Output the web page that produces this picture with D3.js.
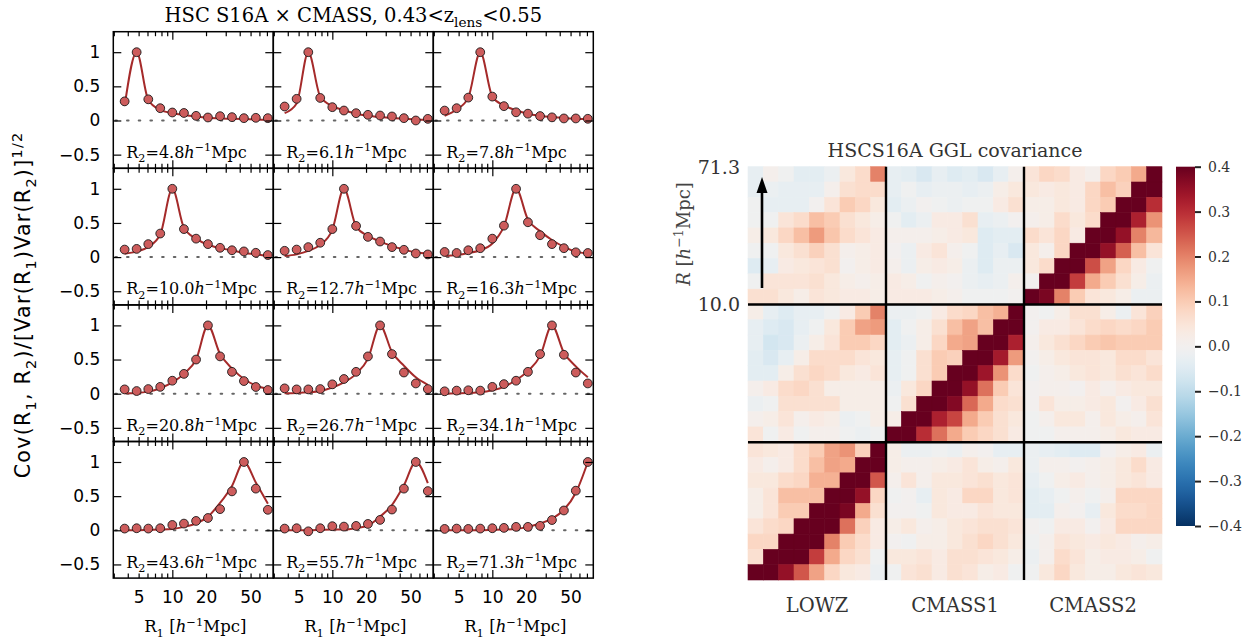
<!DOCTYPE html>
<html><head><meta charset="utf-8">
<script src="https://cdn.jsdelivr.net/npm/d3@7"></script>
<style>body{margin:0;background:#fff} svg{display:block}</style>
</head><body>
<svg id="chart" width="1256" height="643"></svg>
<script>
// ---------------- data: left panels ----------------
const R1 = [3.75, 4.8, 6.1, 7.8, 10.0, 12.7, 16.3, 20.8, 26.7, 34.1, 43.6, 55.7, 71.3];
const R2Labels = ["4.8","6.1","7.8","10.0","12.7","16.3","20.8","26.7","34.1","43.6","55.7","71.3"];
const obsCorr = [
  [0.28, 1.0, 0.31, 0.18, 0.117, 0.11, 0.068, 0.044, 0.063, 0.049, 0.034, 0.039, 0.034],
  [0.205, 0.317, 1.0, 0.33, 0.195, 0.146, 0.107, 0.083, 0.073, 0.059, 0.034, 0.0, 0.024],
  [0.145, 0.18, 0.335, 1.0, 0.35, 0.21, 0.12, 0.10, 0.065, 0.046, 0.03, 0.03, 0.025],
  [0.11, 0.12, 0.19, 0.345, 1.0, 0.41, 0.27, 0.19, 0.136, 0.10, 0.083, 0.063, 0.03],
  [0.092, 0.11, 0.146, 0.21, 0.41, 1.0, 0.456, 0.296, 0.228, 0.146, 0.107, 0.053, 0.039],
  [0.075, 0.06, 0.1, 0.13, 0.27, 0.46, 1.0, 0.51, 0.32, 0.19, 0.13, 0.07, 0.06],
  [0.063, 0.039, 0.068, 0.1, 0.19, 0.29, 0.5, 1.0, 0.546, 0.32, 0.185, 0.098, 0.054],
  [0.078, 0.063, 0.063, 0.068, 0.137, 0.215, 0.32, 0.546, 1.0, 0.58, 0.31, 0.15, 0.068],
  [0.035, 0.045, 0.05, 0.045, 0.1, 0.14, 0.19, 0.32, 0.58, 1.0, 0.57, 0.31, 0.15],
  [0.025, 0.03, 0.025, 0.03, 0.078, 0.098, 0.137, 0.18, 0.31, 0.57, 1.0, 0.61, 0.3],
  [0.025, 0.03, -0.015, 0.03, 0.06, 0.054, 0.064, 0.093, 0.152, 0.304, 0.61, 1.0, 0.574],
  [0.02, 0.025, 0.02, 0.025, 0.03, 0.035, 0.05, 0.05, 0.065, 0.15, 0.29, 0.58, 1.0]
];
const modelCorr = [
  [0.215, 1.0, 0.3, 0.155, 0.107, 0.08, 0.06, 0.04, 0.03, 0.025, 0.02, 0.015, 0.01],
  [0.107, 0.25, 1.0, 0.35, 0.21, 0.15, 0.1, 0.07, 0.05, 0.035, 0.025, 0.015, 0.01],
  [0.07, 0.16, 0.335, 1.0, 0.35, 0.22, 0.15, 0.1, 0.07, 0.05, 0.035, 0.025, 0.02],
  [0.05, 0.08, 0.15, 0.33, 1.0, 0.43, 0.27, 0.18, 0.13, 0.1, 0.06, 0.04, 0.015],
  [0.015, 0.04, 0.09, 0.18, 0.4, 1.0, 0.45, 0.31, 0.23, 0.16, 0.11, 0.07, 0.05],
  [0.02, 0.03, 0.06, 0.1, 0.2, 0.45, 1.0, 0.55, 0.38, 0.25, 0.15, 0.08, 0.05],
  [0.005, 0.01, 0.03, 0.08, 0.165, 0.29, 0.5, 1.0, 0.58, 0.37, 0.215, 0.12, 0.07],
  [0.005, 0.01, 0.02, 0.04, 0.09, 0.165, 0.29, 0.51, 1.0, 0.61, 0.41, 0.24, 0.13],
  [0.0, 0.005, 0.01, 0.02, 0.05, 0.1, 0.2, 0.33, 0.55, 1.0, 0.6, 0.4, 0.24],
  [0.0, 0.0, 0.005, 0.01, 0.02, 0.05, 0.1, 0.2, 0.4, 0.65, 1.0, 0.7, 0.39],
  [0.0, 0.0, 0.0, 0.005, 0.01, 0.01, 0.03, 0.07, 0.2, 0.37, 0.66, 1.0, 0.69],
  [0.0, 0.0, 0.0, 0.0, 0.005, 0.01, 0.02, 0.05, 0.1, 0.17, 0.3, 0.55, 1.0]
];
const xTickLabelValues = [5, 10, 20, 50];
const xMajorTicks = [10];
const xMinorTicks = [3, 4, 5, 6, 7, 8, 9, 20, 30, 40, 50, 60, 70];
const yTickValues = [-0.5, 0, 0.5, 1];
const yTickLabels = ["\u22120.5", "0", "0.5", "1"];

// ---------------- data: right heatmap (rows top -> bottom, cols left -> right) ----------------
const blockNames = ["LOWZ", "CMASS1", "CMASS2"];
const covRows = [
  [-0.03,0.01,-0.01,-0.04,-0.04,-0.02,0.04,0.07,0.2,   -0.03,-0.04,-0.06,-0.03,-0.05,-0.04,-0.06,-0.03,0.01,  0.05,0.08,0.07,0.03,0.01,0.08,0.1,0.15,1.0],
  [-0.03,-0.02,-0.03,-0.03,-0.03,0.01,0.06,0.07,0.07,  -0.03,-0.01,-0.03,-0.02,-0.02,-0.03,-0.02,0.02,0.04,  0.04,0.03,0.04,0.03,0.08,0.12,0.09,1.0,0.6],
  [-0.01,-0.03,-0.03,-0.03,0.0,0.05,0.1,0.08,0.04,     -0.04,-0.02,0.0,-0.01,-0.02,-0.01,-0.01,0.03,0.06,    0.02,0.02,0.04,0.03,0.08,0.1,1.0,0.6,0.3],
  [-0.01,-0.01,0.05,0.07,0.12,0.1,0.06,0.04,0.02,      -0.01,-0.04,-0.02,0.03,0.03,0.06,-0.03,-0.02,0.0,     0.01,0.02,0.07,0.04,0.07,1.0,0.6,0.32,0.18],
  [0.02,0.04,0.08,0.12,0.17,0.11,0.07,0.05,0.03,       0.01,0.01,0.01,0.02,0.03,0.04,-0.05,-0.04,-0.04,      0.07,0.05,0.08,0.03,1.0,0.6,0.35,0.2,0.13],
  [-0.01,-0.01,0.04,0.06,0.09,0.06,0.01,0.02,0.03,     0.0,-0.02,0.03,0.05,0.01,-0.01,-0.05,-0.03,-0.06,     0.04,0.01,0.08,1.0,0.6,0.35,0.24,0.12,0.05],
  [-0.05,-0.03,0.03,0.04,0.05,0.06,0.0,0.02,0.03,      0.01,-0.02,0.02,0.03,0.02,-0.02,-0.05,-0.02,-0.02,    0.04,0.07,1.0,0.6,0.26,0.16,0.08,0.03,-0.01],
  [-0.01,0.05,0.05,0.05,0.06,0.04,0.02,0.01,0.02,      0.03,0.02,-0.01,0.01,0.0,-0.02,-0.03,-0.02,0.01,      0.0,1.0,0.45,0.28,0.15,0.1,0.06,0.02,-0.02],
  [0.06,0.06,0.04,0.02,0.05,0.04,0.03,0.03,0.02,       0.03,0.03,0.03,0.02,0.01,-0.01,-0.01,-0.01,0.0,       1.0,0.38,0.2,0.1,0.05,0.04,0.02,-0.02,-0.02],

  [0.02,-0.03,-0.05,-0.03,-0.03,-0.01,0.03,0.1,0.2,    -0.02,-0.02,-0.01,0.03,0.07,0.08,0.12,0.14,1.0,       0.0,-0.01,0.02,0.06,0.06,0.02,-0.02,0.05,0.09],
  [-0.03,-0.05,-0.06,-0.03,-0.01,0.04,0.1,0.16,0.17,   -0.04,-0.01,0.02,0.06,0.12,0.16,0.12,1.0,0.6,         0.0,0.03,0.03,0.05,0.07,0.08,0.07,0.08,0.1],
  [-0.03,-0.07,-0.06,-0.02,0.02,0.05,0.1,0.1,0.08,     -0.04,-0.02,0.02,0.08,0.15,0.16,1.0,0.6,0.32,         0.01,0.04,0.06,0.08,0.1,0.11,0.1,0.1,0.1],
  [-0.04,-0.06,-0.03,0.02,0.07,0.07,0.07,0.05,0.04,    -0.03,-0.01,0.06,0.1,0.09,1.0,0.6,0.33,0.17,          0.0,0.02,0.04,0.05,0.05,0.04,0.07,0.07,0.05],
  [-0.04,-0.04,0.02,0.06,0.08,0.07,0.04,0.03,0.05,     -0.03,-0.01,0.06,0.1,1.0,0.6,0.34,0.18,0.07,          -0.01,0.01,0.02,0.04,0.05,0.04,0.06,0.05,0.07],
  [0.01,0.03,0.07,0.08,0.06,0.02,0.02,0.02,0.02,       -0.02,0.04,0.08,1.0,0.6,0.35,0.22,0.1,0.05,           0.0,0.01,0.01,0.0,0.03,0.01,0.03,0.04,0.04],
  [-0.02,-0.01,0.06,0.06,0.06,0.06,0.02,0.02,0.02,     -0.01,0.06,1.0,0.6,0.37,0.23,0.15,0.07,0.06,          0.0,0.05,0.02,0.02,0.03,0.04,0.0,0.03,0.06],
  [0.01,0.02,0.05,0.01,0.03,0.02,-0.02,-0.01,0.02,     0.02,1.0,0.6,0.32,0.27,0.15,0.1,0.06,0.04,            -0.01,0.01,0.04,0.04,0.01,0.04,0.02,0.01,0.05],
  [0.05,-0.01,0.03,-0.01,0.01,0.01,-0.01,-0.02,-0.01,  1.0,0.6,0.3,0.22,0.15,0.1,0.08,0.06,0.03,             -0.01,-0.01,0.01,0.01,0.01,0.02,0.04,0.03,0.03],

  [0.05,0.04,0.03,0.07,0.1,0.16,0.18,0.09,1.0,         0.02,-0.02,-0.02,-0.01,-0.02,0.01,0.0,-0.03,-0.03,    -0.02,-0.03,-0.04,-0.05,-0.05,0.0,0.02,0.03,-0.02],
  [0.03,0.01,0.03,0.07,0.12,0.16,0.15,1.0,0.6,         0.02,0.01,0.01,0.02,0.03,0.05,0.02,0.01,0.04,         -0.02,0.01,0.01,0.0,0.01,0.02,0.04,0.07,0.03],
  [0.04,0.04,0.07,0.08,0.14,0.14,1.0,0.6,0.25,         0.01,0.05,0.01,0.04,0.04,0.05,0.06,0.04,0.05,         -0.03,-0.01,0.02,0.03,0.01,0.02,0.04,0.05,0.03],
  [0.02,0.05,0.12,0.12,0.12,1.0,0.6,0.35,0.08,         -0.01,0.0,-0.03,0.04,0.03,0.08,0.08,0.04,0.05,        -0.04,-0.03,-0.01,0.01,-0.01,0.01,0.08,0.08,0.08],
  [0.02,0.05,0.1,0.1,1.0,0.6,0.38,0.15,0.06,           0.0,0.0,-0.01,0.04,0.03,0.03,0.05,0.04,0.04,          -0.04,-0.04,0.01,0.0,-0.03,0.04,0.07,0.07,0.08],
  [0.05,0.07,0.08,1.0,0.6,0.42,0.22,0.09,0.03,         0.02,0.04,0.01,0.02,0.04,0.05,0.06,0.06,0.05,         0.0,-0.01,0.03,0.03,0.0,0.03,0.08,0.08,0.08],
  [0.08,0.08,1.0,0.6,0.42,0.2,0.1,0.07,0.03,           0.0,-0.01,0.02,0.02,0.04,0.06,0.08,0.06,0.04,         -0.01,0.01,0.05,0.04,0.03,0.04,0.03,0.01,0.02],
  [0.06,1.0,0.6,0.42,0.28,0.15,0.08,0.06,-0.01,        0.04,0.04,0.05,0.03,0.06,0.06,0.05,0.04,0.02,         -0.02,0.01,0.07,0.05,0.02,0.03,0.03,0.02,-0.01],
  [1.0,0.6,0.35,0.25,0.16,0.08,0.04,0.03,-0.02,        -0.01,0.05,0.06,0.03,0.06,0.05,0.02,0.03,-0.01,       -0.01,0.04,0.08,0.04,0.02,0.02,0.04,0.05,0.04]
];
const axisEndLabels = ["71.3", "10.0"];
const cbarTickValues = [-0.4, -0.3, -0.2, -0.1, 0.0, 0.1, 0.2, 0.3, 0.4];

// ---------------- helpers ----------------
const svg = d3.select("#chart");
const SANS = "'DejaVu Sans', sans-serif";
const SERIF = "'DejaVu Serif', serif";

function rich(textSel, parts, fs) {
  let cur = 0;
  parts.forEach(([s, m]) => {
    let off = 0, size = fs, style = "normal";
    if (m && m.includes("sub")) { off = 0.28 * fs; size = 0.7 * fs; }
    if (m && m.includes("sup")) { off = -0.4 * fs; size = 0.7 * fs; }
    if (m && m.includes("it")) style = "italic";
    textSel.append("tspan").attr("dy", off - cur).attr("font-size", size)
      .attr("font-style", style).text(s);
    cur = off;
  });
  return textSel;
}

// ---------------- left: grid of panels ----------------
const gridLeft = 113.3, gridTop = 31.7, panelW = 160, panelH = 136.6;
const left = svg.append("g");

R2Labels.forEach((lab, k) => {
  const col = k % 3, row = Math.floor(k / 3);
  const x0 = gridLeft + col * panelW, y0 = gridTop + row * panelH;
  const xs = d3.scaleLog().domain([2.97, 79.8]).range([x0, x0 + panelW]);
  const ys = d3.scaleLinear().domain([-0.7, 1.3]).range([y0 + panelH, y0]);
  const g = left.append("g");

  // zero line
  g.append("line").attr("x1", x0 + 2).attr("x2", x0 + panelW).attr("y1", ys(0)).attr("y2", ys(0))
    .attr("stroke", "#666").attr("stroke-width", 2).attr("stroke-dasharray", "1.6,10.1")
    .attr("stroke-linecap", "round");

  // model line
  const line = d3.line().x((d, i) => xs(R1[i])).y(d => ys(d)).curve(d3.curveMonotoneX);
  g.append("path").attr("d", line(modelCorr[k])).attr("fill", "none")
    .attr("stroke", "#a52a2a").attr("stroke-width", 2);

  // points
  g.selectAll("circle").data(obsCorr[k]).join("circle")
    .attr("cx", (d, i) => xs(R1[i])).attr("cy", d => ys(d)).attr("r", 4.4)
    .attr("fill", "indianred").attr("stroke", "#1a1a1a").attr("stroke-width", 0.9);

  // axes (inward ticks)
  const styleAxis = a => { a.select(".domain").remove(); a.selectAll("line").attr("stroke", "#000").attr("stroke-width", 1.2); };
  g.append("g").attr("transform", `translate(${x0},0)`)
    .call(d3.axisLeft(ys).tickValues(yTickValues).tickSize(-8).tickPadding(13)
      .tickFormat((d, i) => col === 0 ? yTickLabels[i] : ""))
    .call(styleAxis)
    .selectAll("text").attr("font-family", SANS).attr("font-size", 17).attr("fill", "#000");
  g.append("g").attr("transform", `translate(${x0 + panelW},0)`)
    .call(d3.axisRight(ys).tickValues(yTickValues).tickSize(-8).tickFormat("")).call(styleAxis);
  [[d3.axisTop, y0], [d3.axisBottom, y0 + panelH]].forEach(([ax, yy]) => {
    g.append("g").attr("transform", `translate(0,${yy})`)
      .call(ax(xs).tickValues(xMajorTicks).tickSize(-8).tickFormat("")).call(styleAxis);
    g.append("g").attr("transform", `translate(0,${yy})`)
      .call(ax(xs).tickValues(xMinorTicks).tickSize(-4.5).tickFormat("")).call(styleAxis);
  });
  if (row === 3) {
    g.append("g").attr("transform", `translate(0,${y0 + panelH})`)
      .call(d3.axisBottom(xs).tickValues(xTickLabelValues).tickSize(0).tickPadding(13).tickFormat(d3.format("d")))
      .call(a => a.select(".domain").remove())
      .selectAll("text").attr("font-family", SANS).attr("font-size", 17).attr("fill", "#000");
    rich(g.append("text").attr("x", x0 + panelW / 2 + 2).attr("y", y0 + panelH + 54)
      .attr("text-anchor", "middle").attr("font-family", SERIF).attr("font-size", 16.5),
      [["R"], ["1", "sub"], [" ["], ["h", "it"], ["\u22121", "sup"], ["Mpc]"]], 16.5);
  }

  // frame
  g.append("rect").attr("x", x0).attr("y", y0).attr("width", panelW).attr("height", panelH)
    .attr("fill", "none").attr("stroke", "#000").attr("stroke-width", 1.5);

  // R2 label
  rich(g.append("text").attr("x", x0 + 13).attr("y", y0 + panelH - 10.5)
    .attr("font-family", SERIF).attr("font-size", 16).attr("fill", "#000"),
    [["R"], ["2", "sub"], ["=" + lab], ["h", "it"], ["\u22121", "sup"], ["Mpc"]], 16);
});

// title & y label
rich(svg.append("text").attr("x", gridLeft + 1.5 * panelW).attr("y", 22).attr("text-anchor", "middle")
  .attr("font-family", SERIF).attr("font-size", 19.5).attr("fill", "#000"),
  [["HSC S16A \u00d7 CMASS, 0.43<z"], ["lens", "sub"], ["<0.55"]], 19.5);
rich(svg.append("text").attr("transform", `translate(30,${gridTop + 2 * panelH}) rotate(-90)`)
  .attr("text-anchor", "middle").attr("font-family", SANS).attr("font-size", 20.5)
  .attr("letter-spacing", 1.3).attr("fill", "#000"),
  [["Cov(R"], ["1", "sub"], [", R"], ["2", "sub"], [")/[Var(R"], ["1", "sub"], [")Var(R"], ["2", "sub"], [")]"], ["1/2", "sup"]], 20.5);

// ---------------- right: heatmap ----------------
const hmLeft = 748, hmRight = 1162, hmTop = 166.7, hmBottom = 580;
const N = covRows.length;
const xb = d3.scaleBand().domain(d3.range(N)).range([hmLeft, hmRight]);
const yb = d3.scaleBand().domain(d3.range(N)).range([hmTop, hmBottom]);
const cScale = d3.scaleLinear().domain([-0.4, 0.4]).range([1, 0]).clamp(true);
const color = v => d3.interpolateRdBu(cScale(v));

const hm = svg.append("g");
covRows.forEach((rowVals, r) => {
  hm.append("g").selectAll("rect").data(rowVals).join("rect")
    .attr("x", (d, c) => xb(c)).attr("y", yb(r))
    .attr("width", xb.bandwidth()).attr("height", yb.bandwidth())
    .attr("fill", d => color(d)).attr("stroke", d => color(d)).attr("stroke-width", 0.6);
});
// block separators
[9, 18].forEach(b => {
  hm.append("line").attr("x1", xb(b)).attr("x2", xb(b)).attr("y1", hmTop).attr("y2", hmBottom)
    .attr("stroke", "#000").attr("stroke-width", 2.4);
  hm.append("line").attr("x1", hmLeft).attr("x2", hmRight).attr("y1", yb(b)).attr("y2", yb(b))
    .attr("stroke", "#000").attr("stroke-width", 2.4);
});
// block labels
blockNames.forEach((name, b) => {
  hm.append("text").attr("x", xb(9 * b) + 4.5 * xb.bandwidth()).attr("y", 612)
    .attr("text-anchor", "middle").attr("font-family", SERIF).attr("font-size", 19.5)
    .attr("fill", "#333").text(name);
});
// title
hm.append("text").attr("x", (hmLeft + hmRight) / 2).attr("y", 157).attr("text-anchor", "middle")
  .attr("font-family", SERIF).attr("font-size", 19).attr("fill", "#333").text("HSCS16A GGL covariance");
// R range labels
[hmTop, yb(9)].forEach((yy, i) => {
  hm.append("text").attr("x", 740).attr("y", yy + 7).attr("text-anchor", "end")
    .attr("font-family", SERIF).attr("font-size", 19).attr("fill", "#333").text(axisEndLabels[i]);
});
rich(hm.append("text").attr("transform", `translate(690,234) rotate(-90)`).attr("text-anchor", "middle")
  .attr("font-family", SERIF).attr("font-size", 18).attr("fill", "#444"),
  [["R", "it"], [" ["], ["h", "it"], ["\u22121", "sup"], ["Mpc]"]], 18);
// arrow
hm.append("line").attr("x1", 762).attr("x2", 762).attr("y1", 288).attr("y2", 190)
  .attr("stroke", "#000").attr("stroke-width", 2.6);
hm.append("path").attr("d", "M762,177 L756.5,193 L767.5,193 Z").attr("fill", "#000");

// ---------------- colorbar ----------------
const cbL = 1176, cbR = 1195, cbT = 166.7, cbB = 526;
const cbY = d3.scaleLinear().domain([-0.4, 0.4]).range([cbB, cbT]);
const defs = svg.append("defs");
const grad = defs.append("linearGradient").attr("id", "cbgrad").attr("x1", 0).attr("x2", 0).attr("y1", 1).attr("y2", 0);
d3.range(0, 1.0001, 0.02).forEach(t => {
  grad.append("stop").attr("offset", t).attr("stop-color", color(-0.4 + 0.8 * t));
});
svg.append("rect").attr("x", cbL).attr("y", cbT).attr("width", cbR - cbL).attr("height", cbB - cbT)
  .attr("fill", "url(#cbgrad)");
svg.append("g").attr("transform", `translate(${cbR},0)`)
  .call(d3.axisRight(cbY).tickValues(cbarTickValues).tickSize(6).tickPadding(7).tickFormat(d3.format(".1f")))
  .call(a => { a.select(".domain").remove(); a.selectAll("line").attr("stroke", "#222").attr("stroke-width", 2); })
  .selectAll("text").attr("font-family", SERIF).attr("font-size", 14).attr("fill", "#333");
</script>
</body></html>
